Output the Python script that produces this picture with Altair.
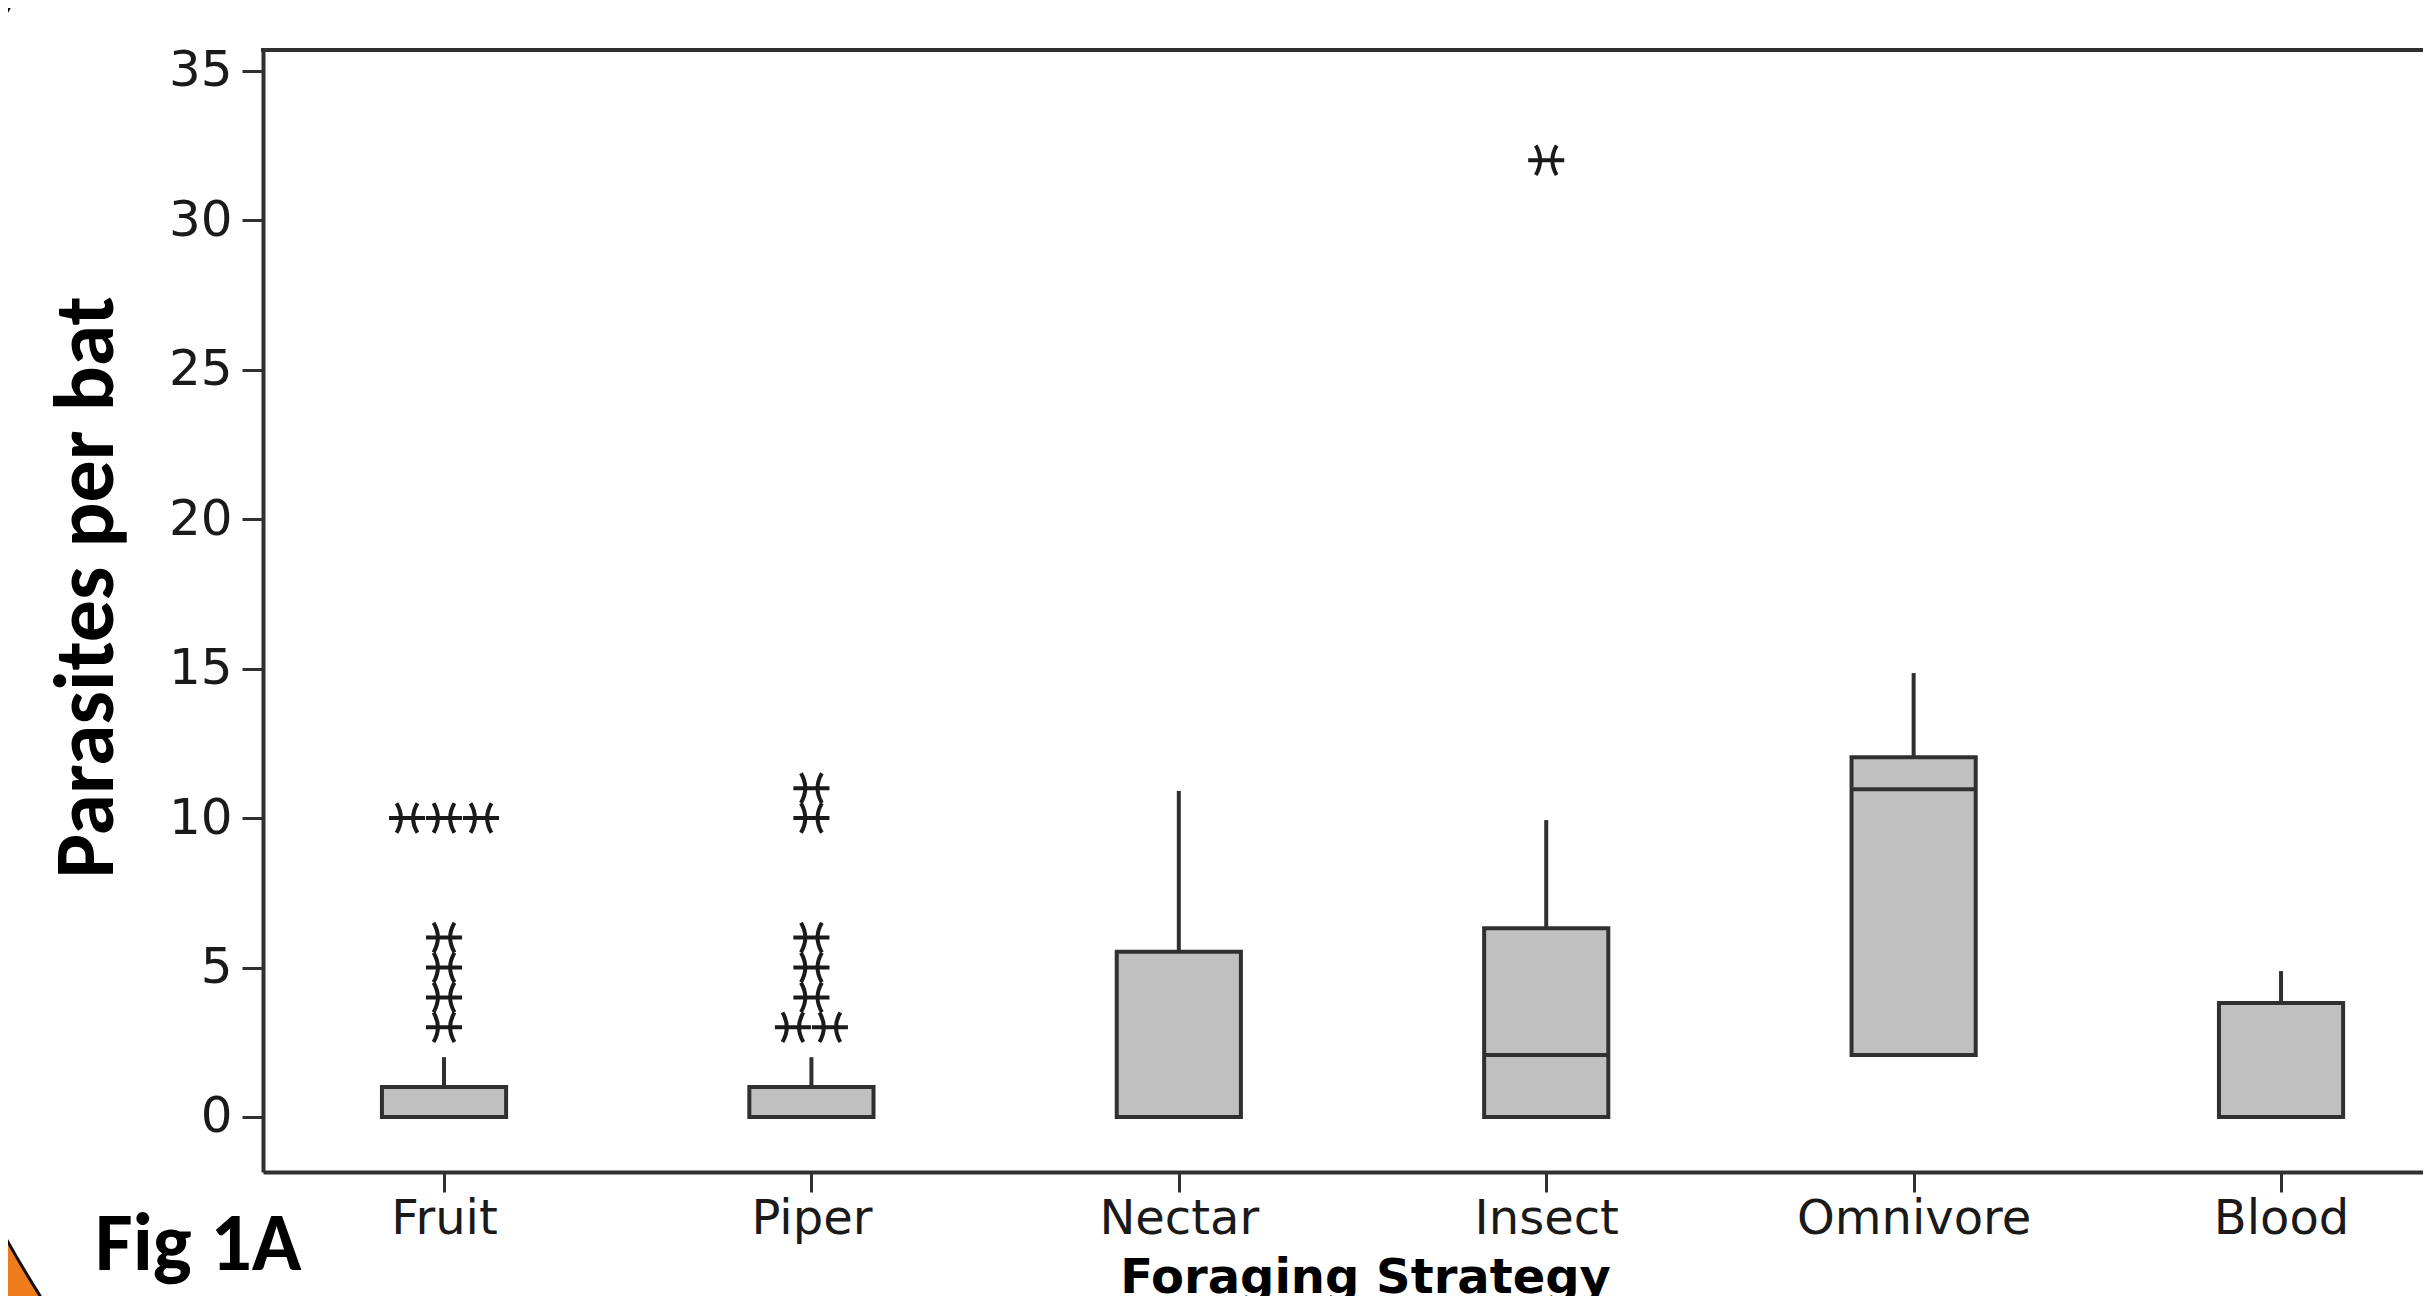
import json
import altair as alt
import pandas as pd

# ---------------- data ----------------
categories = ["Fruit", "Piper", "Nectar", "Insect", "Omnivore", "Blood"]
q1 = [0, 0, 0, 0, 2.07, 0]
median = [0, 0, 0, 2.07, 10.96, 0]
q3 = [1, 1, 5.53, 6.31, 12.03, 3.81]
whisker_hi = [2, 2, 10.9, 9.93, 14.85, 4.88]

outlier_cat = ["Fruit", "Fruit", "Fruit", "Fruit", "Fruit",
               "Piper", "Piper", "Piper", "Piper", "Piper", "Piper",
               "Insect"]
outlier_val = [3, 4, 5, 6, 10,
               3, 4, 5, 6, 10, 11,
               32]
outlier_count = [1, 1, 1, 1, 3,
                 2, 1, 1, 1, 1, 1,
                 1]

y_ticks = [0, 5, 10, 15, 20, 25, 30, 35]

# ---------------- tables ----------------
box_df = pd.DataFrame({
    "cat": categories,
    "idx": list(range(len(categories))),
    "q1": q1, "median": median, "q3": q3, "hi": whisker_hi,
})

rows = []
for c, v, n in zip(outlier_cat, outlier_val, outlier_count):
    for k in range(n):
        rows.append({"cat": c, "idx": categories.index(c), "val": v,
                     "slot": k - (n - 1) / 2})
out_df = pd.DataFrame(rows)

# ---------------- styling ----------------
W, H = 2160, 1122
LINE = "#303030"
BOX_HALF = 0.169       # half box width in category units
SLOT = 0.1007          # spacing of tied outliers, category units
ASTER = "M-1,0L1,0M-0.58,-0.82Q-0.1,0,-0.58,0.82M0.58,-0.82Q0.1,0,0.58,0.82"

xscale = alt.Scale(domain=[-0.4927, 5.3864], nice=False, zero=False)
yscale = alt.Scale(domain=[-1.84, 35.69], nice=False, zero=False)

label_expr = json.dumps(categories) + "[datum.value]"

x_axis = alt.Axis(values=list(range(len(categories))), labelExpr=label_expr,
                  title="Foraging Strategy", grid=False, labelLimit=600,
                  labelFont="DejaVu Sans", labelFontSize=48, labelColor="#1a1a1a",
                  labelPadding=3, tickSize=20, tickWidth=3, tickColor=LINE,
                  domainColor=LINE, domainWidth=4,
                  titleFont="DejaVu Sans", titleFontSize=48, titleFontWeight="bold",
                  titleColor="#000000", titleX=1102, titleY=120,
                  titleBaseline="alphabetic", titleAlign="center", titleAnchor="start")

y_axis = alt.Axis(values=y_ticks, title="Parasites per bat", grid=False,
                  labelFont="DejaVu Sans", labelFontSize=50, labelColor="#1a1a1a",
                  labelPadding=10, tickSize=21, tickWidth=3, tickColor=LINE,
                  domainColor=LINE, domainWidth=4,
                  titleFont="Carlito, Lato", titleFontSize=84, titleFontWeight="bold",
                  titleColor="#000000", titleAngle=270, titleX=-151, titleY=537,
                  titleBaseline="alphabetic", titleAlign="center", titleAnchor="start")

base = alt.Chart(box_df)

# decorative orange slide background at the left edge
deco = alt.Chart(pd.DataFrame({"a": [0]})).mark_arc(
    innerRadius=1258, outerRadius=2600, theta=3.4, theta2=6.0,
    fill="#EE7B1C", stroke="#111111", strokeWidth=3,
).encode(x=alt.value(842), y=alt.value(576))

whisk = base.mark_rule(color=LINE, strokeWidth=4).encode(
    x=alt.X("idx:Q", scale=xscale, axis=x_axis),
    y=alt.Y("q3:Q", scale=yscale, axis=y_axis),
    y2="hi:Q",
)

boxes = base.transform_calculate(
    x0=f"datum.idx - {BOX_HALF}", x1=f"datum.idx + {BOX_HALF}"
).mark_rect(fill="#C0C0C0", stroke=LINE, strokeWidth=4).encode(
    x=alt.X("x0:Q", scale=xscale), x2="x1:Q",
    y=alt.Y("q1:Q", scale=yscale), y2="q3:Q",
)

med = base.transform_calculate(
    x0=f"datum.idx - {BOX_HALF}", x1=f"datum.idx + {BOX_HALF}"
).mark_rule(color=LINE, strokeWidth=4).encode(
    x=alt.X("x0:Q", scale=xscale), x2="x1:Q",
    y=alt.Y("median:Q", scale=yscale),
)

outl = alt.Chart(out_df).transform_calculate(
    xp=f"datum.idx + datum.slot * {SLOT}"
).mark_point(shape=ASTER, size=1300, filled=False, stroke="#1a1a1a",
             strokeWidth=4, opacity=1).encode(
    x=alt.X("xp:Q", scale=xscale),
    y=alt.Y("val:Q", scale=yscale),
)

top_border = alt.Chart(pd.DataFrame({"a": [0]})).mark_rule(
    color=LINE, strokeWidth=4
).encode(x=alt.value(-2), x2=alt.value(W), y=alt.value(0))

fig = alt.Chart(pd.DataFrame({"t": ["Fig 1A"]})).mark_text(
    font="Carlito, Lato", fontSize=82, fontWeight="bold", color="#000000",
    align="left", baseline="alphabetic",
).encode(text="t:N", x=alt.value(-168), y=alt.value(1220))

chart = alt.layer(deco, whisk, boxes, med, outl, top_border, fig).properties(
    width=W, height=H,
    autosize=alt.AutoSizeParams(type="none"),
    padding={"left": 255, "top": 42, "right": 0, "bottom": 124},
    background="#FFFFFF",
).configure_view(stroke=None)

chart.save("out.html", embed_options={"renderer": "svg", "actions": False})
